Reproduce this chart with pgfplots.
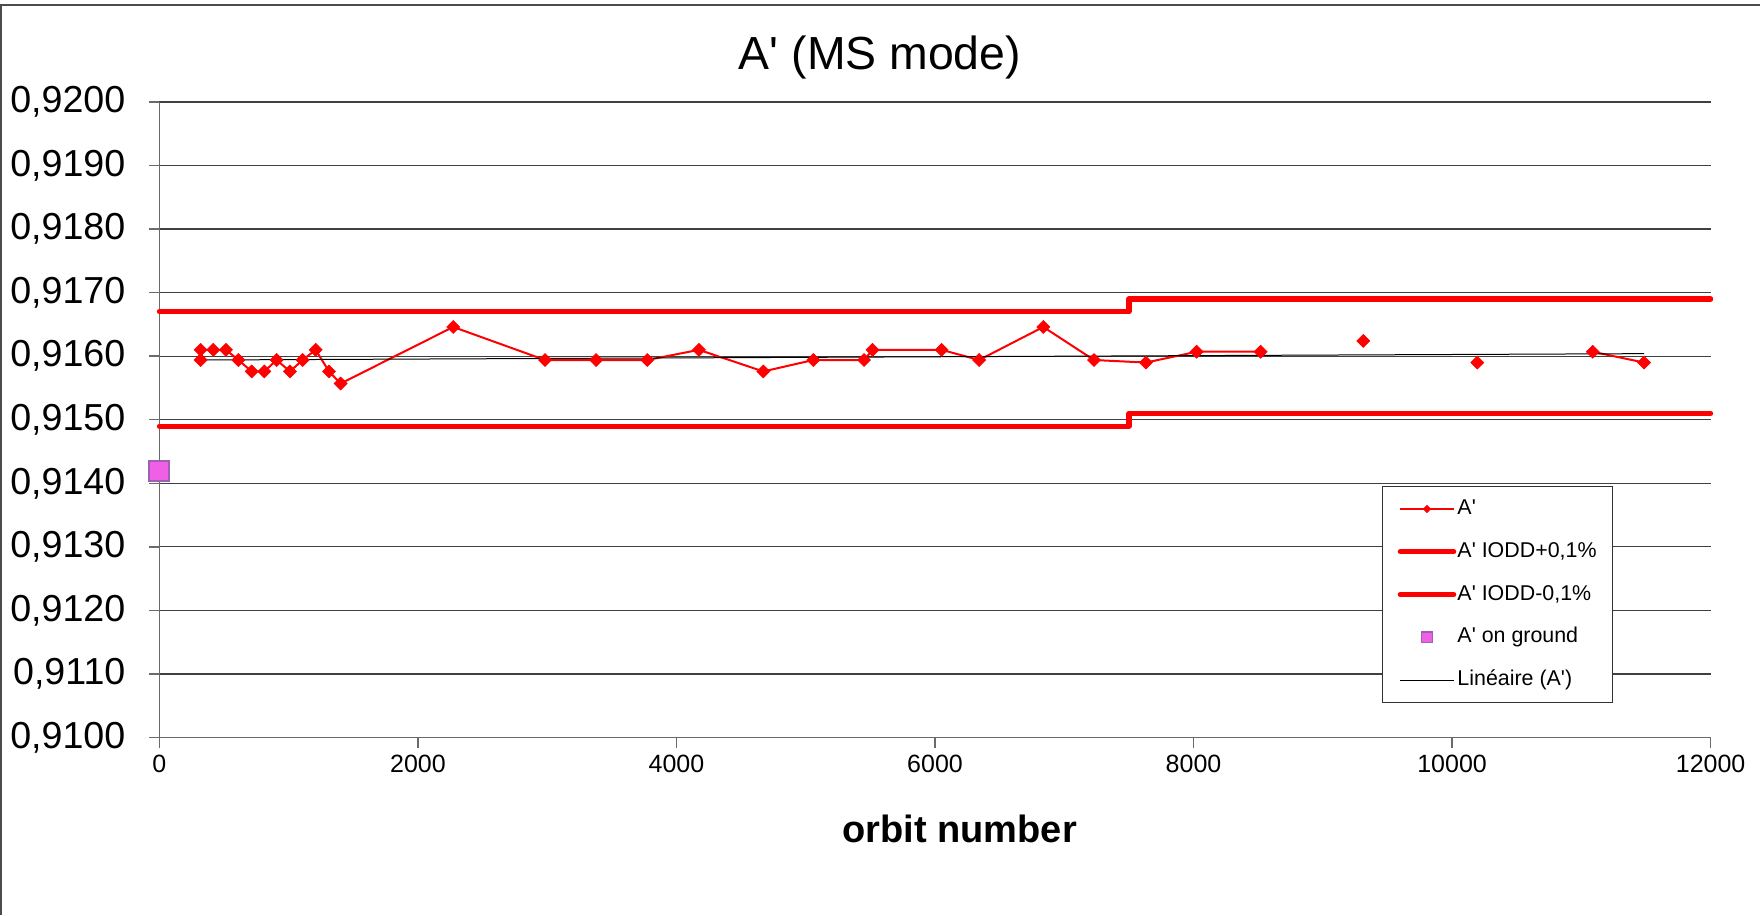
\documentclass[border=0pt]{standalone}
\usepackage{fontspec}
\setmainfont{Liberation Sans}
\usepackage{pgfplots}
\pgfplotsset{compat=1.18}

\definecolor{gridgray}{HTML}{404040}
\definecolor{axisgray}{HTML}{6A6A6A}
\definecolor{groundfill}{HTML}{F060E6}
\definecolor{groundedge}{HTML}{9A62B0}

\newcommand{\ap}{\textquotesingle}

% legend pictures
\pgfplotsset{
  leg line mark/.style={legend image code/.code={\draw[mark repeat=2, mark phase=2, ##1, mark size=1.3pt]
     plot coordinates {(0pt,0pt) (13.35pt,0pt) (26.7pt,0pt)};}},
  leg line/.style={legend image code/.code={\draw[##1] (0pt,0pt) -- (26.7pt,0pt);}},
  leg square/.style={legend image code/.code={\path[draw=none] (0pt,0pt) (26.7pt,0pt);
     \draw[only marks, mark=square*, mark size=2.7pt,
           mark options={fill=groundfill, draw=groundedge, line width=0.6pt}]
       plot coordinates {(13.35pt,0pt)};}},
}

\begin{document}
\begin{tikzpicture}
\useasboundingbox (-79.7pt,-88.75pt) rectangle (800.3pt,368.75pt);
% chart area frame
\draw[black!70, line width=0.75pt] (-79.2pt,-88.75pt) -- (-79.2pt,366.25pt) -- (800.3pt,366.25pt);

\begin{axis}[
  at={(0pt,0pt)}, anchor=south west,
  scale only axis,
  width=775.6pt, height=317.75pt,
  xmin=0, xmax=12000,
  ymin=0.91, ymax=0.92,
  xtick={0,2000,4000,6000,8000,10000,12000},
  ytick={0.910,0.911,0.912,0.913,0.914,0.915,0.916,0.917,0.918,0.919,0.920},
  scaled x ticks=false,
  scaled y ticks=false,
  axis lines*=left,
  axis line style={axisgray, line width=0.75pt},
  tick style={axisgray, line width=0.75pt},
  tick align=outside,
  major tick length=5pt,
  ymajorgrids,
  major grid style={gridgray, line width=0.6pt},
  clip=false,
  unbounded coords=jump,
  /pgf/number format/assume math mode=true,
  x tick label style={/pgf/number format/1000 sep={}, font=\fontsize{12.5}{14}\selectfont},
  y tick label style={/pgf/number format/.cd, fixed, fixed zerofill, precision=4, use comma, /tikz/.cd,
                      font=\fontsize{18.8}{21}\selectfont, xshift=-8.5pt},
  legend cell align=left,
  legend style={at={(0.7884,0.3958)}, anchor=north west,
                draw=black!80, line width=0.5pt,
                font=\fontsize{10.7}{12.5}\selectfont,
                inner xsep=7.4pt, inner ysep=4pt, row sep=6.9pt,
                nodes={text height=8pt, text depth=2.5pt, inner xsep=0.6pt}},
]

% measured values of A'
\addplot+[red, line width=1pt, mark=square*, mark size=2.3pt,
  mark options={rotate=45, fill=red, draw=red, line width=0.3pt}, leg line mark]
coordinates {
  (319,0.91594) (319,0.91610) (417,0.91610) (515,0.91610) (611,0.91594)
  (714,0.91576) (812,0.91576) (907,0.91594) (1010,0.91576) (1108,0.91594)
  (1209,0.91610) (1312,0.91576) (1402,0.91557) (2273,0.91646) (2983,0.91594)
  (3378,0.91594) (3774,0.91594) (4174,0.91610) (4672,0.91576) (5059,0.91594)
  (5451,0.91594) (5517,0.91610) (6051,0.91610) (6341,0.91594) (6838,0.91646)
  (7230,0.91594) (7632,0.91590) (8024,0.91607) (8519,0.91607)
  (8900,nan)
  (9313,0.91624)
  (9700,nan)
  (10195,0.91590)
  (10600,nan)
  (11088,0.91607) (11485,0.91590)
};
\addlegendentry{A\ap}

% IODD +0.1 % limit
\addplot[red, line width=2.6pt, line join=round, line cap=round, leg line]
coordinates {(0,0.9167) (7500,0.9167) (7500,0.9169) (12000,0.9169)};
\addlegendentry{A\ap{} IODD+0,1\%}

% IODD -0.1 % limit
\addplot[red, line width=2.6pt, line join=round, line cap=round, leg line]
coordinates {(0,0.9149) (7500,0.9149) (7500,0.9151) (12000,0.9151)};
\addlegendentry{A\ap{} IODD-0,1\%}

% on-ground value
\addplot[only marks, mark=square*, mark size=5pt,
  mark options={fill=groundfill, draw=groundedge, line width=1pt}, leg square]
coordinates {(0,0.9142)};
\addlegendentry{A\ap{} on ground}

% linear trend of A'
\addplot[black, line width=0.5pt, leg line]
coordinates {(319,0.91594) (11485,0.91604)};
\addlegendentry{Linéaire (A\ap)}

\end{axis}

\node[anchor=base, font=\fontsize{23.2}{27}\selectfont] at (360.3pt,333.75pt) {A\ap{} (MS mode)};
\node[anchor=base, font=\fontsize{19}{22}\selectfont\bfseries] at (400.15pt,-52.6pt) {orbit number};
\end{tikzpicture}
\end{document}
